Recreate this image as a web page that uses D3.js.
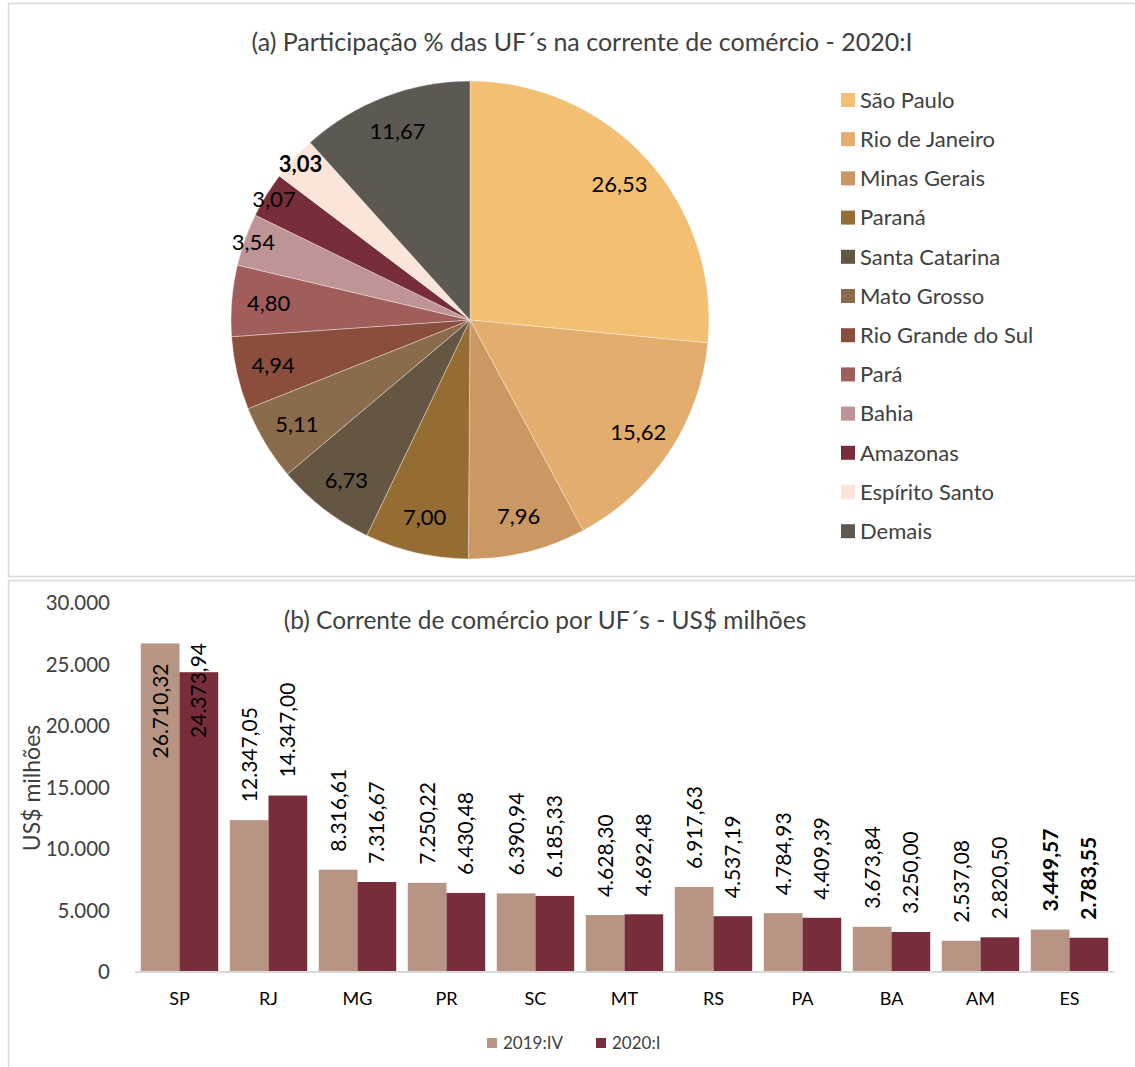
<!DOCTYPE html>
<html>
<head>
<meta charset="utf-8">
<script src="https://cdn.jsdelivr.net/npm/d3@7"></script>
<style>
  html, body { margin: 0; padding: 0; background: #fff; }
  svg { display: block; font-family: Lato, "Open Sans", sans-serif; }
</style>
</head>
<body>
<svg id="chart" width="1135" height="1067"></svg>
<script>
// ---- (a) shares of each state in trade flow, 2020:I ----
const pieStates = ["São Paulo", "Rio de Janeiro", "Minas Gerais", "Paraná", "Santa Catarina",
  "Mato Grosso", "Rio Grande do Sul", "Pará", "Bahia", "Amazonas", "Espírito Santo", "Demais"];
const pieShares = [26.53, 15.62, 7.96, 7.00, 6.73, 5.11, 4.94, 4.80, 3.54, 3.07, 3.03, 11.67];
const pieBold = ["Espírito Santo"];

// ---- (b) trade flow by state, US$ millions ----
const ufCodes = ["SP", "RJ", "MG", "PR", "SC", "MT", "RS", "PA", "BA", "AM", "ES"];
const series2019IV = [26710.32, 12347.05, 8316.61, 7250.22, 6390.94, 4628.30, 6917.63, 4784.93, 3673.84, 2537.08, 3449.57];
const series2020I = [24373.94, 14347.00, 7316.67, 6430.48, 6185.33, 4692.48, 4537.19, 4409.39, 3250.00, 2820.50, 2783.55];
const seriesNames = ["2019:IV", "2020:I"];
const barBold = ["ES"];
const yTicks = [0, 5000, 10000, 15000, 20000, 25000, 30000];

// palettes
const pieColors = ["#F3BF72", "#E3AD6E", "#CB9863", "#956C32", "#655643", "#8A6C4C",
  "#8B4E3C", "#A05D5B", "#BE9594", "#772D3A", "#FAE5D8", "#5D5852"];
const barColors = ["#B89484", "#772D3A"];

const br = d3.formatLocale({ decimal: ",", thousands: ".", grouping: [3], currency: ["R$", ""] });
const fmt2 = br.format(",.2f");
const fmt0 = br.format(",.0f");

const svg = d3.select("#chart");
const textGray = "#404040";

// panel frames
svg.append("rect").attr("x", 8.5).attr("y", 3.5).attr("width", 1140).attr("height", 573)
  .attr("fill", "#fff").attr("stroke", "#d9d9d9").attr("stroke-width", 1.5);
svg.append("rect").attr("x", 8.5).attr("y", 580.5).attr("width", 1140).attr("height", 500)
  .attr("fill", "#fff").attr("stroke", "#d9d9d9").attr("stroke-width", 1.5);

// ================= pie =================
const pieG = svg.append("g");
pieG.append("text").attr("x", 582).attr("y", 42).attr("dy", "0.35em")
  .attr("text-anchor", "middle").attr("fill", textGray).attr("font-size", 25)
  .text("(a) Participação % das UF´s na corrente de comércio - 2020:I");

const cx = 470, cy = 320, R = 239;
const pieData = pieStates.map((n, i) => ({ name: n, value: pieShares[i], color: pieColors[i] }));
const arcs = d3.pie().sort(null).value(d => d.value)(pieData);
const arc = d3.arc().innerRadius(0).outerRadius(R);
const slices = pieG.append("g").attr("transform", `translate(${cx},${cy})`);
slices.selectAll("path").data(arcs).join("path")
  .attr("d", arc).attr("fill", d => d.data.color)
  .attr("stroke", "rgba(255,255,255,0.45)").attr("stroke-width", 0.8);

slices.selectAll("text").data(arcs).join("text")
  .attr("transform", d => {
    const a = (d.startAngle + d.endAngle) / 2;
    const r = d.data.value < 4 ? 230 : 202;
    return `translate(${Math.sin(a) * r},${-Math.cos(a) * r})`;
  })
  .attr("text-anchor", "middle").attr("dy", "0.35em")
  .attr("font-size", 22).attr("fill", "#000")
  .attr("font-weight", d => pieBold.includes(d.data.name) ? "bold" : "normal")
  .text(d => fmt2(d.data.value).replace(/\./g, ""));

const leg = pieG.append("g").selectAll("g").data(pieData).join("g")
  .attr("transform", (d, i) => `translate(841,${100 + i * 39.2})`);
leg.append("rect").attr("x", 0).attr("y", -7).attr("width", 14).attr("height", 14)
  .attr("fill", d => d.color);
leg.append("text").attr("x", 19).attr("dy", "0.35em").attr("font-size", 22)
  .attr("fill", textGray).text(d => d.name);

// ================= bars =================
const barG = svg.append("g");
barG.append("text").attr("x", 545).attr("y", 620).attr("dy", "0.35em")
  .attr("text-anchor", "middle").attr("fill", textGray).attr("font-size", 24.5)
  .text("(b) Corrente de comércio por UF´s - US$ milhões");

const x0 = d3.scaleBand().domain(ufCodes).range([135, 1114]).paddingInner(0.13).paddingOuter(0.065);
const x1 = d3.scaleBand().domain(seriesNames).range([0, x0.bandwidth()]);
const y = d3.scaleLinear().domain([0, 30000]).range([972, 603]);

// y axis (labels only)
const yAxis = d3.axisLeft(y).tickValues(yTicks).tickFormat(fmt0).tickSize(0).tickPadding(0);
const yAx = barG.append("g").attr("transform", "translate(110,0)").call(yAxis)
  .attr("font-family", null).attr("font-size", null);
yAx.select(".domain").remove();
yAx.selectAll("text").attr("font-size", 20.5).attr("fill", textGray);

barG.append("text")
  .attr("transform", "translate(32,788) rotate(-90)")
  .attr("text-anchor", "middle").attr("dy", "0.35em")
  .attr("font-size", 23).attr("fill", textGray).text("US$ milhões");

const rows = ufCodes.map((c, i) => ({ code: c, vals: [series2019IV[i], series2020I[i]] }));
const groups = barG.append("g").selectAll("g").data(rows).join("g")
  .attr("transform", d => `translate(${x0(d.code)},0)`);

groups.selectAll("rect").data(d => d.vals.map((v, k) => ({ key: seriesNames[k], v, k })))
  .join("rect")
  .attr("x", d => x1(d.key)).attr("width", x1.bandwidth())
  .attr("y", d => y(d.v)).attr("height", d => y(0) - y(d.v))
  .attr("fill", d => barColors[d.k]);

// baseline
barG.append("line").attr("x1", 135).attr("x2", 1114).attr("y1", 972).attr("y2", 972)
  .attr("stroke", "#d9d9d9").attr("stroke-width", 2);

// category axis labels
const xAx = barG.append("g").attr("transform", "translate(0,972)")
  .call(d3.axisBottom(x0).tickSize(0).tickPadding(20))
  .attr("font-family", null).attr("font-size", null);
xAx.select(".domain").remove();
xAx.selectAll("text").attr("font-size", 18).attr("fill", "#000");

// rotated value labels above bars, kept below a ceiling
const labelCeil = y(30000) + 40;
const gap = 18;
groups.each(function (row) {
  const g = d3.select(this);
  row.vals.forEach((v, k) => {
    const cxBar = x1(seriesNames[k]) + x1.bandwidth() / 2;
    const top = y(v);
    const t = g.append("text")
      .attr("font-size", 21).attr("fill", "#000")
      .attr("font-weight", barBold.includes(row.code) ? "bold" : "normal")
      .attr("dy", "0.35em")
      .text(fmt2(v));
    const L = t.node().getComputedTextLength();
    let start = top - gap;                 // baseline start (lower end of the text)
    if (start - L < labelCeil) {
      if (top - gap < labelCeil + 5) start = top + 20 + L;   // no room: inside end
      else start = labelCeil + L;                            // pushed under the ceiling
    }
    t.attr("transform", `translate(${cxBar},${start}) rotate(-90)`);
  });
});

// series legend
const bl = barG.append("g").selectAll("g").data(seriesNames).join("g")
  .attr("transform", (d, i) => `translate(${[487, 596][i]},1043)`);
bl.append("rect").attr("y", -5).attr("width", 10).attr("height", 10).attr("fill", (d, i) => barColors[i]);
bl.append("text").attr("x", 16).attr("dy", "0.35em").attr("font-size", 17)
  .attr("fill", textGray).text(d => d);
</script>
</body>
</html>
